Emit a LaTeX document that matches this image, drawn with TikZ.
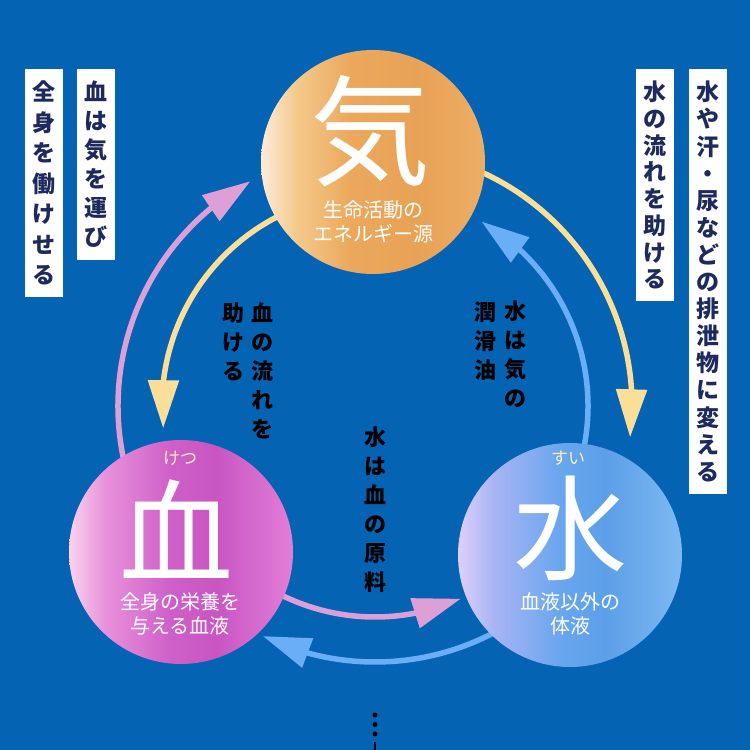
\documentclass[tikz,border=0pt]{standalone}
\usepackage{fontspec}
\setmainfont{Noto Sans CJK JP}
\usetikzlibrary{arrows.meta,bending}

\definecolor{bg}{HTML}{0563B4}
\definecolor{navy}{HTML}{1E2A5E}
\definecolor{lilac}{HTML}{DDA0D6}
\definecolor{cream}{HTML}{FBDF98}
\definecolor{sky}{HTML}{69AEF7}
\definecolor{rubyyellow}{HTML}{FFF0B0}

% ball shadings
\pgfdeclarehorizontalshading{qishade}{100bp}{color(0bp)=(white!80!orange);
  color(25bp)=(white!85!orange); color(33bp)=({rgb,255:red,244;green,201;blue,138});
  color(45bp)=({rgb,255:red,235;green,168;blue,92}); color(60bp)=({rgb,255:red,232;green,162;blue,85});
  color(75bp)=({rgb,255:red,236;green,173;blue,102}); color(100bp)=({rgb,255:red,236;green,173;blue,102})}
\pgfdeclarehorizontalshading{xueshade}{100bp}{color(0bp)=({rgb,255:red,250;green,211;blue,238});
  color(25bp)=({rgb,255:red,250;green,211;blue,238}); color(33bp)=({rgb,255:red,232;green,145;blue,219});
  color(48bp)=({rgb,255:red,206;green,94;blue,200}); color(58bp)=({rgb,255:red,200;green,86;blue,194});
  color(75bp)=({rgb,255:red,226;green,126;blue,216}); color(100bp)=({rgb,255:red,226;green,126;blue,216})}
\pgfdeclarehorizontalshading{shuishade}{100bp}{color(0bp)=({rgb,255:red,220;green,208;blue,250});
  color(25bp)=({rgb,255:red,220;green,208;blue,250}); color(33bp)=({rgb,255:red,168;green,180;blue,244});
  color(48bp)=({rgb,255:red,104;green,166;blue,238}); color(58bp)=({rgb,255:red,92;green,159;blue,232});
  color(75bp)=({rgb,255:red,126;green,185;blue,242}); color(100bp)=({rgb,255:red,126;green,185;blue,242})}

\newcommand\boxfont[1]{\fontsize{23}{#1}\selectfont\bfseries}
\newcommand\midfont{\fontsize{22}{29}\selectfont\bfseries}

\begin{document}
\begin{tikzpicture}[x=1pt,y=1pt,
    flow/.style={line width=5.5pt,-{Triangle[length=48pt,width=30pt]}},
    ball/.style={circle,minimum size=224pt,inner sep=0pt},
    glyph/.style={text=white,inner sep=0pt,font=\fontsize{114}{114}\selectfont},
    caption/.style={text=white,align=center,inner sep=0pt,font=\fontsize{20}{23.5}\selectfont},
    ruby/.style={text=rubyyellow,inner sep=0pt,font=\fontsize{17}{17}\selectfont},
    sidebox/.style={fill=white,text=navy,align=center,anchor=north,
        minimum width=38pt,inner xsep=0pt,inner ysep=12pt},
    midlabel/.style={text=black,align=center,inner sep=0pt,font=\midfont}]
    \useasboundingbox (0,0) rectangle (750,750);
    \fill[bg] (0,0) rectangle (750,750);

    % arcs between the three balls
    \coordinate (ring) at (375,344);
    \draw[flow,lilac] (ring) ++(192:257) arc[start angle=192,end angle=119,radius=257];
    \draw[flow,cream] (ring) ++(117:213) arc[start angle=117,end angle=186,radius=213];
    \draw[flow,cream] (ring) ++(67:257) arc[start angle=67,end angle=-7,radius=257];
    \draw[flow,sky] (ring) ++(-12:213) arc[start angle=-12,end angle=60,radius=213];
    \draw[flow,lilac] (ring) ++(243:211) arc[start angle=243,end angle=294,radius=211];
    \draw[flow,sky] (ring) ++(-62:256) arc[start angle=-62,end angle=-116,radius=256];

    % balls
    \node[ball,shading=qishade] (qi) at (373,588) {};
    \node[ball,shading=xueshade] (xue) at (181,198) {};
    \node[ball,shading=shuishade] (shui) at (570,195) {};

    \node[glyph,font=\fontsize{120}{120}\selectfont] (qichar) at (370,619) {気};
    \node[caption] (qitext) at (373,528) {生命活動の\\エネルギー源};
    \node[ruby] (xueruby) at (180,292) {けつ};
    \node[glyph] (xuechar) at (176,221) {血};
    \node[caption] (xuetext) at (180,136) {全身の栄養を\\与える血液};
    \node[ruby] (shuiruby) at (568,292) {すい};
    \node[glyph] (shuichar) at (570,222) {水};
    \node[caption] (shuitext) at (570,136) {血液以外の\\体液};

    % labels on the arcs
    \node[midlabel] (flowa) at (262,379) {血\\の\\流\\れ\\を};
    \node[midlabel] (flowb) at (233,408) {助\\け\\る};
    \node[midlabel] (luba) at (515,396) {水\\は\\気\\の};
    \node[midlabel] (lubb) at (485,409) {潤\\滑\\油};
    \node[midlabel] (source) at (375,240) {水\\は\\血\\の\\原\\料};

    % side boxes
    \node[sidebox,font=\boxfont{29}] (carry) at (96,681) {血\\は\\気\\を\\運\\び};
    \node[sidebox,font=\boxfont{30.5}] (work) at (43.5,681) {全\\身\\を\\働\\け\\せ\\る};
    \node[sidebox,font=\boxfont{26.7}] (help) at (655,681) {水\\の\\流\\れ\\を\\助\\け\\る};
    \node[sidebox,font=\boxfont{27.1}] (waste) at (707.5,681)
        {水\\や\\汗\\・\\尿\\な\\ど\\の\\排\\泄\\物\\に\\変\\え\\る};

    % dots at the bottom
    \foreach \y in {35,25.5,16} \fill[black] (375,\y) circle (2.5);
    \coordinate (tail) at (375,0);
    \draw[line width=2pt] (375,8) -- (tail);
\end{tikzpicture}
\end{document}
